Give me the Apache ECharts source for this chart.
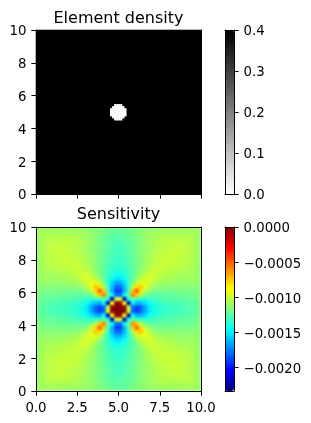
<!DOCTYPE html>
<html><head><meta charset="utf-8">
<script src="https://cdn.jsdelivr.net/npm/echarts@6/dist/echarts.min.js"></script>
<style>
html,body{margin:0;padding:0;background:#fff;width:311px;height:423px;overflow:hidden}
#sensBox{position:absolute;left:36px;top:227px;width:165px;height:164px;overflow:hidden}
#sens{width:165px;height:164px;filter:blur(0.8px)}
#main{position:absolute;left:0;top:0;width:311px;height:423px;filter:blur(0.3px)}
</style></head><body>
<div id="sensBox"><div id="sens"></div></div>
<div id="main"></div>
<script>
const xTicks = [0, 2.5, 5, 7.5, 10];
const yTicks = [0, 2, 4, 6, 8, 10];
const densityTicks = [0, 0.1, 0.2, 0.3, 0.4];
const sensitivityTicks = [0, -0.0005, -0.001, -0.0015, -0.002];
const densitySolid = 0.4;
const densityHole = 0;
const densityCellsPerSide = 80;
// half-width, in cells, of the round hole on each row outward from the middle
const holeHalfWidths = [4, 4, 3, 2];
const sensitivityMin = -0.00234;
// sensitivity in units of 1e-5, one quarter of the symmetric field, centre at [0][0]
const sensitivityQuarter = [
[0,-5,-98,-180,-190,-180,-166,-152,-143,-138,-136,-133,-133,-131,-131,-129,-129,-126,-126,-122],
[-5,-89,-222,-145,-164,-161,-154,-145,-138,-136,-133,-131,-131,-129,-129,-129,-126,-126,-124,-122],
[-98,-222,-140,-124,-131,-133,-136,-133,-131,-129,-129,-126,-126,-126,-124,-124,-124,-122,-122,-119],
[-180,-145,-124,-61,-75,-105,-119,-124,-126,-126,-124,-124,-124,-124,-122,-122,-122,-122,-119,-117],
[-190,-164,-131,-75,-51,-80,-101,-112,-117,-119,-119,-119,-119,-119,-119,-119,-119,-117,-117,-117],
[-180,-161,-133,-105,-80,-75,-94,-103,-110,-112,-115,-115,-115,-115,-115,-115,-115,-115,-115,-115],
[-166,-154,-136,-119,-101,-94,-94,-98,-103,-108,-110,-110,-110,-112,-112,-112,-112,-112,-112,-115],
[-152,-145,-133,-124,-112,-103,-98,-96,-99,-103,-105,-108,-108,-108,-110,-110,-110,-110,-110,-112],
[-143,-138,-131,-126,-117,-110,-103,-99,-99,-101,-103,-105,-105,-105,-108,-108,-108,-108,-110,-112],
[-138,-136,-129,-126,-119,-112,-108,-103,-101,-100,-101,-103,-103,-105,-105,-105,-105,-108,-108,-112],
[-136,-133,-129,-124,-119,-115,-110,-105,-103,-101,-100,-101,-101,-103,-103,-105,-105,-105,-108,-112],
[-133,-131,-126,-124,-119,-115,-110,-108,-105,-103,-101,-100,-101,-101,-103,-103,-103,-105,-108,-112],
[-133,-131,-126,-124,-119,-115,-110,-108,-105,-103,-101,-101,-100,-101,-101,-103,-103,-105,-108,-110],
[-131,-129,-126,-124,-119,-115,-112,-108,-105,-105,-103,-101,-101,-100,-101,-101,-103,-105,-108,-110],
[-131,-129,-124,-122,-119,-115,-112,-110,-108,-105,-103,-103,-101,-101,-101,-101,-103,-105,-108,-110],
[-129,-129,-124,-122,-119,-115,-112,-110,-108,-105,-105,-103,-103,-101,-101,-101,-103,-105,-108,-110],
[-129,-126,-124,-122,-119,-115,-112,-110,-108,-105,-105,-103,-103,-103,-103,-103,-103,-105,-108,-110],
[-126,-126,-122,-122,-117,-115,-112,-110,-108,-108,-105,-105,-105,-105,-105,-105,-105,-105,-108,-110],
[-126,-124,-122,-119,-117,-115,-112,-110,-110,-108,-108,-108,-108,-108,-108,-108,-108,-108,-108,-110],
[-122,-122,-119,-117,-117,-115,-115,-112,-112,-112,-112,-110,-110,-110,-110,-110,-110,-110,-110,-112]
];

const jet = ['#00007f','#0000ff','#007fff','#00ffff','#7fff7f','#ffff00','#ff7f00','#ff0000','#7f0000'];
const font = '"DejaVu Sans"';
const ink = '#000';

// density cells
const nD = densityCellsPerSide, densityData = [];
for (let j = 0; j < nD; j++) for (let i = 0; i < nD; i++) {
  const dj = j < nD / 2 ? nD / 2 - 1 - j : j - nD / 2;
  const di = i < nD / 2 ? nD / 2 - 1 - i : i - nD / 2;
  const inHole = dj < holeHalfWidths.length && di < holeHalfWidths[dj];
  densityData.push([i, j, inHole ? densityHole : densitySolid]);
}
// sensitivity cells: quarter reflected into the four quadrants
const nQ = sensitivityQuarter.length, nS = nQ * 2, sensData = [];
for (let j = 0; j < nS; j++) for (let i = 0; i < nS; i++) {
  const dj = j < nQ ? nQ - 1 - j : j - nQ;
  const di = i < nQ ? nQ - 1 - i : i - nQ;
  sensData.push([i, j, sensitivityQuarter[dj][di] * 1e-5]);
}
const cats = n => Array.from({length: n}, (_, k) => k);

const sens = echarts.init(document.getElementById('sens'), null, {renderer: 'canvas'});
sens.setOption({
  animation: false,
  grid: {left: 0, right: 0, top: 0, bottom: 0},
  xAxis: {type: 'category', data: cats(nS), show: false},
  yAxis: {type: 'category', data: cats(nS), show: false},
  visualMap: {show: false, min: sensitivityMin, max: 0, inRange: {color: jet}},
  series: [{type: 'heatmap', data: sensData, progressive: 0, silent: true}]
});

const plotA = {left: 36, top: 30, width: 165, height: 164};
const plotB = {left: 36, top: 227, width: 165, height: 164};
const barA = {left: 225, top: 30, width: 9, height: 164};
const barB = {left: 225, top: 227, width: 9, height: 164};
const axisTextX = {color: ink, fontFamily: font, fontSize: 13.3, margin: 11.5};
const axisText = {color: ink, fontFamily: font, fontSize: 13.3, margin: 9.5, verticalAlign: 'top', lineHeight: 4};
const lineS = {show: true, onZero: false, lineStyle: {color: ink, width: 1}};
const tickS = {show: true, length: 4.67, lineStyle: {color: ink, width: 1}};
const noSplit = {show: false};
const fmtMinus = v => (v < 0 ? '\u2212' : '') + Math.abs(v).toFixed(4);

const main = echarts.init(document.getElementById('main'), null, {renderer: 'canvas'});
main.setOption({
  animation: false,
  backgroundColor: 'transparent',
  title: [
    {text: 'Element density', left: 118.5, top: 10.5, padding: 0, textAlign: 'center',
     textStyle: {fontFamily: font, fontSize: 16, fontWeight: 'normal', color: ink}},
    {text: 'Sensitivity', left: 118.5, top: 207, padding: 0, textAlign: 'center',
     textStyle: {fontFamily: font, fontSize: 16, fontWeight: 'normal', color: ink}}
  ],
  grid: [
    Object.assign({show: true, backgroundColor: '#000', borderWidth: 0}, plotA),
    Object.assign({z: 5}, plotA),
    Object.assign({z: 5}, plotB),
    Object.assign({z: 5}, barA),
    Object.assign({z: 5}, barB)
  ],
  xAxis: [
    {gridIndex: 0, type: 'category', data: cats(nD), show: false},
    {gridIndex: 1, type: 'value', min: 0, max: 10, position: 'bottom', z: 5,
     axisLine: lineS, axisTick: Object.assign({customValues: xTicks}, tickS),
     axisLabel: {show: false}, splitLine: noSplit},
    {gridIndex: 1, type: 'value', min: 0, max: 10, position: 'top', z: 5,
     axisLine: lineS, axisTick: {show: false}, axisLabel: {show: false}, splitLine: noSplit},
    {gridIndex: 2, type: 'value', min: 0, max: 10, position: 'bottom', z: 5,
     axisLine: lineS, axisTick: Object.assign({customValues: xTicks}, tickS),
     axisLabel: Object.assign({customValues: xTicks, formatter: v => v.toFixed(1), hideOverlap: false, showMinLabel: true, showMaxLabel: true}, axisTextX), splitLine: noSplit},
    {gridIndex: 2, type: 'value', min: 0, max: 10, position: 'top', z: 5,
     axisLine: lineS, axisTick: {show: false}, axisLabel: {show: false}, splitLine: noSplit},
    {gridIndex: 3, type: 'value', min: 0, max: 1, position: 'bottom', z: 5, axisLine: lineS, axisTick: {show: false}, axisLabel: {show: false}, splitLine: noSplit},
    {gridIndex: 3, type: 'value', min: 0, max: 1, position: 'top', z: 5, axisLine: lineS, axisTick: {show: false}, axisLabel: {show: false}, splitLine: noSplit},
    {gridIndex: 4, type: 'value', min: 0, max: 1, position: 'bottom', z: 5, axisLine: lineS, axisTick: {show: false}, axisLabel: {show: false}, splitLine: noSplit},
    {gridIndex: 4, type: 'value', min: 0, max: 1, position: 'top', z: 5, axisLine: lineS, axisTick: {show: false}, axisLabel: {show: false}, splitLine: noSplit}
  ],
  yAxis: [
    {gridIndex: 0, type: 'category', data: cats(nD), show: false},
    {gridIndex: 1, type: 'value', min: 0, max: 10, position: 'left', z: 5,
     axisLine: lineS, axisTick: Object.assign({customValues: yTicks}, tickS),
     axisLabel: Object.assign({customValues: yTicks, formatter: v => String(v)}, axisText), splitLine: noSplit},
    {gridIndex: 1, type: 'value', min: 0, max: 10, position: 'right', z: 5,
     axisLine: lineS, axisTick: {show: false}, axisLabel: {show: false}, splitLine: noSplit},
    {gridIndex: 2, type: 'value', min: 0, max: 10, position: 'left', z: 5,
     axisLine: lineS, axisTick: Object.assign({customValues: yTicks}, tickS),
     axisLabel: Object.assign({customValues: yTicks, formatter: v => String(v)}, axisText), splitLine: noSplit},
    {gridIndex: 2, type: 'value', min: 0, max: 10, position: 'right', z: 5,
     axisLine: lineS, axisTick: {show: false}, axisLabel: {show: false}, splitLine: noSplit},
    {gridIndex: 3, type: 'value', min: 0, max: 0.4, position: 'right', z: 5,
     axisLine: lineS, axisTick: Object.assign({customValues: densityTicks}, tickS),
     axisLabel: Object.assign({customValues: densityTicks, formatter: v => v.toFixed(1)}, axisText), splitLine: noSplit},
    {gridIndex: 3, type: 'value', min: 0, max: 0.4, position: 'left', z: 5,
     axisLine: lineS, axisTick: {show: false}, axisLabel: {show: false}, splitLine: noSplit},
    {gridIndex: 4, type: 'value', min: sensitivityMin, max: 0, position: 'right', z: 5,
     axisLine: lineS, axisTick: Object.assign({customValues: sensitivityTicks}, tickS),
     axisLabel: Object.assign({customValues: sensitivityTicks, formatter: fmtMinus}, axisText), splitLine: noSplit},
    {gridIndex: 4, type: 'value', min: sensitivityMin, max: 0, position: 'left', z: 5,
     axisLine: lineS, axisTick: {show: false}, axisLabel: {show: false}, splitLine: noSplit}
  ],
  visualMap: [
    {type: 'continuous', seriesIndex: 0, min: 0, max: densitySolid, inRange: {color: ['#ffffff', '#000000']},
     left: barA.left, top: barA.top, itemWidth: barA.width, itemHeight: barA.height, padding: 0, text: null, calculable: false, showLabel: false, realtime: false},
    {type: 'continuous', seriesIndex: [], min: sensitivityMin, max: 0, inRange: {color: jet},
     left: barB.left, top: barB.top, itemWidth: barB.width, itemHeight: barB.height, padding: 0, text: null, calculable: false, showLabel: false, realtime: false}
  ],
  series: [
    {type: 'heatmap', xAxisIndex: 0, yAxisIndex: 0, data: densityData, progressive: 0, silent: true, z: 1}
  ]
});
</script></body></html>
